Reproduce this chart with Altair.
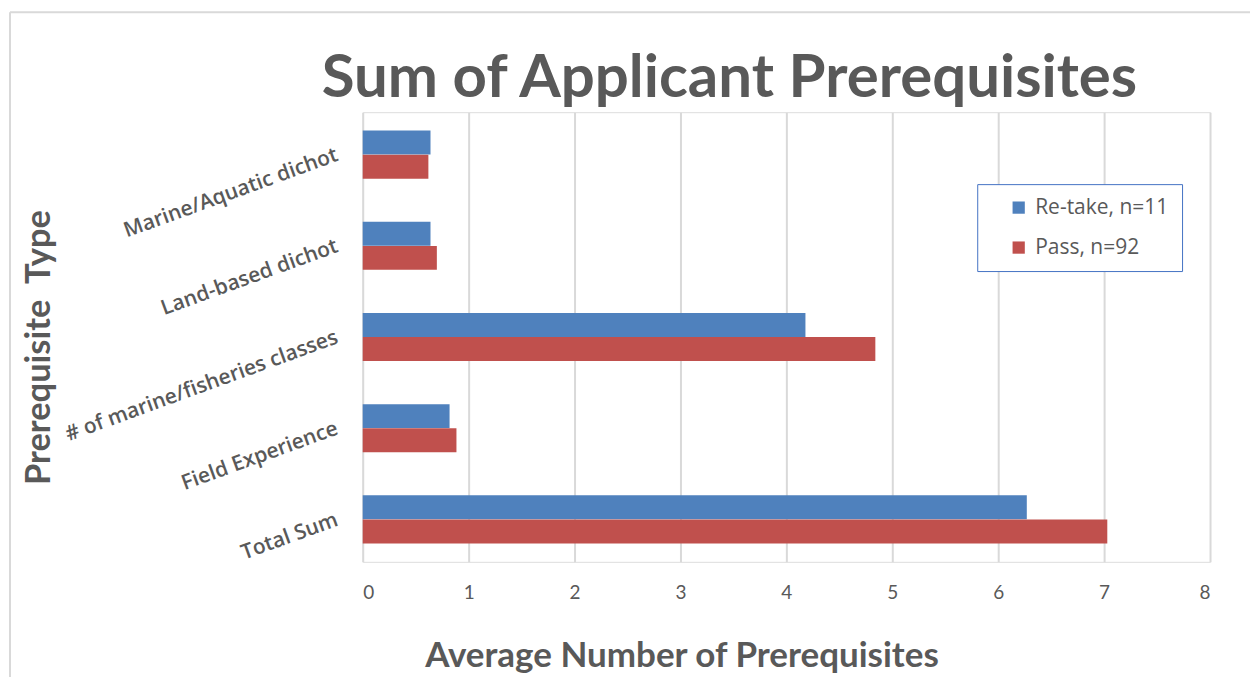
import altair as alt
import pandas as pd

chart_title = "Sum of Applicant Prerequisites"
categories = ["Marine/Aquatic dichot", "Land-based dichot", "# of marine/fisheries classes",
              "Field Experience", "Total Sum"]
retake = [0.64, 0.64, 4.18, 0.82, 6.27]
passed = [0.62, 0.70, 4.84, 0.885, 7.03]
series = ["Re-take, n=11", "Pass, n=92"]
colors = ["#4f81bd", "#c0504d"]
x_ticks = [0, 1, 2, 3, 4, 5, 6, 7, 8]

rows = []
for c, r, p in zip(categories, retake, passed):
    rows.append({"cat": c, "series": series[0], "val": r})
    rows.append({"cat": c, "series": series[1], "val": p})
df = pd.DataFrame(rows)

FONT = "Lato"
GREY = "#595959"

bars = alt.Chart(df).mark_bar(size=24).encode(
    y=alt.Y("cat:N", sort=categories,
            scale=alt.Scale(paddingInner=0.47, paddingOuter=0.2),
            axis=alt.Axis(title="Prerequisite\u00a0\u00a0Type", labelAngle=-20, labelAlign="right",
                          labelBaseline="middle", labelPadding=26, ticks=False, domain=False,
                          labelFontSize=21, labelFont="Open Sans", labelFontWeight=600,
                          labelColor=GREY, labelLimit=500, titleFontSize=34.5, titleFont=FONT,
                          titleFontWeight="bold", titleColor=GREY, titleX=-323, titleY=235,
                          titleAngle=-90, titleAlign="center", titleBaseline="middle")),
    yOffset=alt.YOffset("series:N", sort=series),
    x=alt.X("val:Q", scale=alt.Scale(domain=[0, 8], nice=False),
            axis=alt.Axis(title="Average Number of Prerequisites", values=x_ticks,
                          ticks=False, domain=False, grid=True, gridColor="#d9d9d9",
                          gridWidth=2, labelFontSize=19, labelFont="Lato",
                          labelColor=GREY, labelPadding=22, titleFontSize=35,
                          titleFont=FONT, titleFontWeight="bold", titleColor=GREY,
                          titleX=319, titleY=105, titleAlign="center",
                          titleBaseline="alphabetic")),
    color=alt.Color("series:N", sort=series,
                    scale=alt.Scale(domain=series, range=colors),
                    legend=alt.Legend(title=None, orient="none", legendX=615, legendY=72,
                                      symbolType="square", symbolSize=150,
                                      symbolStrokeWidth=0, labelFontSize=21,
                                      labelFont="Open Sans", labelColor=GREY,
                                      rowPadding=18, padding=13, symbolOffset=18,
                                      labelOffset=6,
                                      strokeColor="#4472c4",
                                      fillColor="white", labelLimit=300)),
)

frame = pd.DataFrame({"k": [0]})
border_t = alt.Chart(frame).mark_rule(color="#d9d9d9", strokeWidth=2).encode(
    x=alt.value(-353), x2=alt.value(894), y=alt.value(-100))
border_l = alt.Chart(frame).mark_rule(color="#d9d9d9", strokeWidth=2).encode(
    x=alt.value(-353), y=alt.value(-100), y2=alt.value(570))
border_r = alt.Chart(frame).mark_rule(color="#d9d9d9", strokeWidth=2).encode(
    x=alt.value(894), y=alt.value(-100), y2=alt.value(570))
title_mark = alt.Chart(frame).mark_text(
    text=chart_title, font=FONT, fontWeight="bold", fontSize=60, color=GREY,
    align="center", baseline="alphabetic").encode(x=alt.value(367), y=alt.value(-15))

chart = alt.layer(border_t, border_l, border_r, title_mark, bars).properties(
    width=848, height=450,
    padding={"left": 355, "top": 104, "right": 40, "bottom": 115},
    autosize=alt.AutoSizeParams(type="none"),
).configure_view(stroke=None).configure(background="white")

chart.save("out.html", embed_options={"renderer": "svg", "actions": False})
